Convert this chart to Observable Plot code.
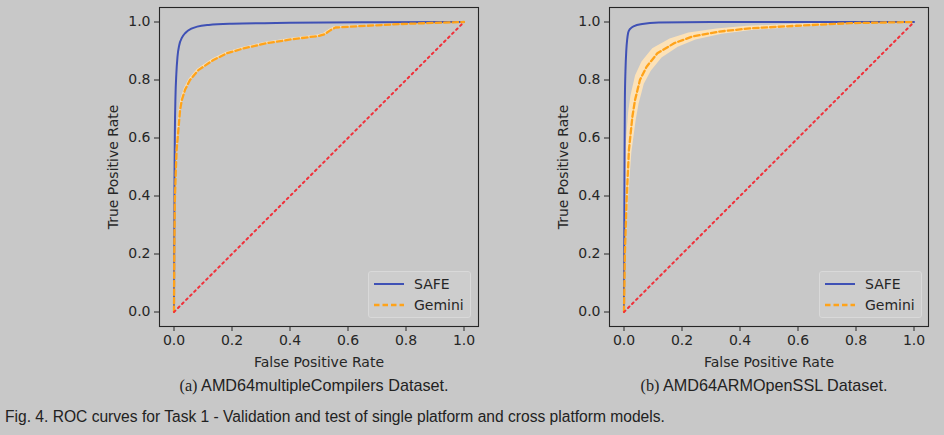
<!DOCTYPE html>
<html><head><meta charset="utf-8">
<script src="https://cdn.jsdelivr.net/npm/d3@7"></script>
<script src="https://cdn.jsdelivr.net/npm/@observablehq/plot@0.6"></script>
<style>
html,body{margin:0;padding:0;background:#c8c8c8;}
#wrap{position:relative;width:944px;height:435px;background:#c8c8c8;overflow:hidden;font-family:"DejaVu Sans",sans-serif;color:#262626;}
.panel{position:absolute;top:0;}
.legend{position:absolute;background:#cdcdcd;border:1px solid #d9d9d9;border-radius:3px;box-sizing:border-box;font-family:"DejaVu Sans",sans-serif;font-size:14px;color:#262626;}
.legend .row{position:absolute;left:0;height:18px;display:flex;align-items:center;}
.legend svg{margin-left:5px;margin-right:10px;}
.sub{position:absolute;font-family:"Liberation Sans",Arial,sans-serif;font-size:16.2px;color:#222;white-space:nowrap;transform:translate(-50%,-50%);}
.sub .lab{font-family:"Liberation Serif","Times New Roman",serif;}
.cap{position:absolute;left:5px;top:408px;font-family:"Liberation Sans",Arial,sans-serif;font-size:15.6px;color:#222;white-space:nowrap;}
</style></head>
<body><div id="wrap"></div>
<script>
// ---- data ----
const xTicks = [0, 0.2, 0.4, 0.6, 0.8, 1.0];
const yTicks = [0, 0.2, 0.4, 0.6, 0.8, 1.0];
const seriesNames = ["SAFE", "Gemini"];
const subcaptions = ["AMD64multipleCompilers Dataset.", "AMD64ARMOpenSSL Dataset."];
const subLabels = ["(a)", "(b)"];
const figCaption = "Fig. 4. ROC curves for Task 1 - Validation and test of single platform and cross platform models.";
const diagFpr = [0, 1];
const diagTpr = [0, 1];

// (a) AMD64multipleCompilers
const safeA_fpr = [0, 0.001, 0.002, 0.003, 0.005, 0.008, 0.012, 0.018, 0.027, 0.04, 0.06, 0.08, 0.12, 0.2, 0.4, 0.7, 1];
const safeA_tpr = [0, 0.3, 0.5, 0.62, 0.74, 0.82, 0.88, 0.92, 0.945, 0.963, 0.977, 0.984, 0.99, 0.994, 0.997, 0.999, 1];
const gemA_fpr = [0, 0.001, 0.003, 0.006, 0.009, 0.014, 0.021, 0.027, 0.038, 0.055, 0.084, 0.136, 0.182, 0.24, 0.32, 0.41, 0.50, 0.52, 0.54, 0.557, 0.667, 0.782, 0.9, 1];
const gemA_tpr = [0, 0.2, 0.386, 0.48, 0.559, 0.616, 0.697, 0.731, 0.766, 0.8, 0.834, 0.869, 0.892, 0.909, 0.927, 0.941, 0.952, 0.958, 0.972, 0.981, 0.987, 0.993, 0.997, 1];
const gemA_spread = [0, 0.002, 0.003, 0.003, 0.003, 0.003, 0.003, 0.003, 0.003, 0.003, 0.003, 0.003, 0.003, 0.003, 0.003, 0.003, 0.003, 0.003, 0.003, 0.003, 0.002, 0.002, 0.001, 0];

// (b) AMD64ARMOpenSSL
const safeB_fpr = [0, 0.001, 0.002, 0.003, 0.005, 0.008, 0.011, 0.014, 0.018, 0.023, 0.035, 0.063, 0.12, 0.3, 1];
const safeB_tpr = [0, 0.3, 0.55, 0.731, 0.83, 0.903, 0.94, 0.961, 0.972, 0.978, 0.986, 0.993, 0.998, 1, 1];
const gemB_fpr = [0, 0.003, 0.009, 0.017, 0.029, 0.038, 0.055, 0.078, 0.115, 0.173, 0.236, 0.329, 0.433, 0.594, 0.78, 1];
const gemB_tpr = [0, 0.2, 0.386, 0.559, 0.674, 0.731, 0.8, 0.846, 0.892, 0.927, 0.95, 0.967, 0.978, 0.987, 0.996, 1];
const gemB_spread = [0, 0.003, 0.006, 0.01, 0.013, 0.014, 0.015, 0.016, 0.016, 0.014, 0.012, 0.009, 0.007, 0.005, 0.003, 0];

// ---- styles ----
const C_SAFE = "#3f51b5", C_GEM = "#ffa31a", C_BAND = "#fce2b8", C_DIAG = "#f0303a", C_INK = "#262626";

function rows(fpr, tpr, spread) {
  return fpr.map((f, i) => ({fpr: f, tpr: tpr[i], s: spread ? spread[i] : 0}));
}

function panel(safeF, safeT, gemF, gemT, gemS) {
  const safe = rows(safeF, safeT);
  const gem = rows(gemF, gemT, gemS);
  const diag = rows(diagFpr, diagTpr);
  return Plot.plot({
    width: 480, height: 371,
    marginLeft: 159, marginRight: 2, marginTop: 7, marginBottom: 45,
    style: {background: "transparent", fontFamily: "DejaVu Sans", fontSize: "14px", color: C_INK, overflow: "visible"},
    x: {domain: [-0.05, 1.05]},
    y: {domain: [-0.05, 1.05]},
    marks: [
      Plot.area(gem, {x1: d => d.fpr - d.s, y1: d => d.tpr + d.s, x2: d => d.fpr + d.s, y2: d => d.tpr - d.s, fill: C_BAND, curve: "linear"}),
      Plot.line(safe, {x: "fpr", y: "tpr", stroke: C_SAFE, strokeWidth: 2, curve: "monotone-x"}),
      Plot.line(gem, {x: "fpr", y: "tpr", stroke: C_GEM, strokeWidth: 2.3, strokeDasharray: "5.5,3", curve: "linear"}),
      Plot.line(diag, {x: "fpr", y: "tpr", stroke: C_DIAG, strokeWidth: 2, strokeDasharray: "2,3.7"}),
      Plot.frame({stroke: C_INK, strokeWidth: 1.1}),
      Plot.axisX({ticks: xTicks, tickFormat: d3.format(".1f"), tickSize: 5, tickPadding: 4, stroke: C_INK,
                  label: "False Positive Rate", labelAnchor: "center", labelArrow: "none", labelOffset: 40}),
      Plot.axisY({ticks: yTicks, tickFormat: d3.format(".1f"), tickSize: 5, tickPadding: 4, stroke: C_INK,
                  label: "True Positive Rate", labelAnchor: "center", labelArrow: "none", labelOffset: 51})
    ]
  });
}

const wrap = document.getElementById("wrap");
const panels = [
  {left: 0, plot: panel(safeA_fpr, safeA_tpr, gemA_fpr, gemA_tpr, gemA_spread), legendLeft: 368, subX: 314},
  {left: 450, plot: panel(safeB_fpr, safeB_tpr, gemB_fpr, gemB_tpr, gemB_spread), legendLeft: 819, subX: 764}
];
panels.forEach((p, i) => {
  const d = document.createElement("div");
  d.className = "panel";
  d.style.left = p.left + "px";
  d.appendChild(p.plot);
  wrap.appendChild(d);

  const lg = document.createElement("div");
  lg.className = "legend";
  lg.style.left = p.legendLeft + "px";
  lg.style.top = "271px";
  lg.style.width = "103px";
  lg.style.height = "47px";
  const styles = [
    {stroke: C_SAFE, dash: null, w: 2},
    {stroke: C_GEM, dash: "5.5,3", w: 2.3}
  ];
  seriesNames.forEach((name, j) => {
    const r = document.createElement("div");
    r.className = "row";
    r.style.top = (3 + j * 21) + "px";
    r.innerHTML = `<svg width="30" height="6"><line x1="0" x2="30" y1="3" y2="3" stroke="${styles[j].stroke}" stroke-width="${styles[j].w}" ${styles[j].dash ? `stroke-dasharray="${styles[j].dash}"` : ""}/></svg><span>${name}</span>`;
    lg.appendChild(r);
  });
  wrap.appendChild(lg);

  const s = document.createElement("div");
  s.className = "sub";
  s.style.left = p.subX + "px";
  s.style.top = "386px";
  s.innerHTML = `<span class="lab">${subLabels[i]}</span> ${subcaptions[i]}`;
  wrap.appendChild(s);
});
const cap = document.createElement("div");
cap.className = "cap";
cap.textContent = figCaption;
wrap.appendChild(cap);
</script></body></html>
